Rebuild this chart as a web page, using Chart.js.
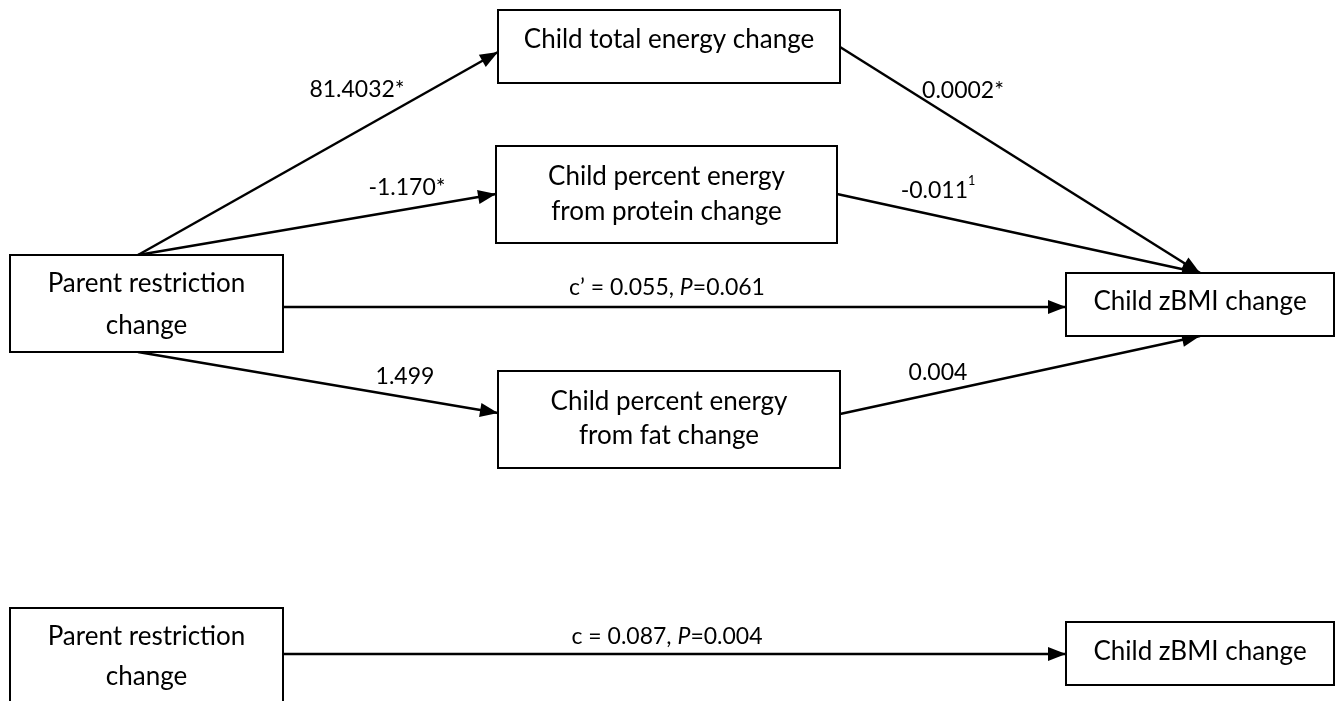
<!DOCTYPE html>
<html>
<head>
<meta charset="utf-8">
<script src="https://cdn.jsdelivr.net/npm/chart.js@4/dist/chart.umd.min.js"></script>
<style>
    body { margin: 0; background: #fff; }
    #wrap { width: 1342px; height: 701px; }
</style>
</head>
<body>
<div id="wrap"><canvas id="pathChart"></canvas></div>
<script>
// node texts (lines separated by \n)
const nodeNames = [
    'Parent restriction\nchange',
    'Child total energy change',
    'Child percent energy\nfrom protein change',
    'Child percent energy\nfrom fat change',
    'Child zBMI change',
    'Parent restriction\nchange',
    'Child zBMI change'
];

// paths: from node, to node, coefficient text (_x_ = italic, ^x = superscript)
const pathFrom = [0, 0, 0, 0, 1, 2, 3, 5];
const pathTo = [1, 2, 4, 3, 4, 4, 4, 6];
const pathLabels = [
    '81.4032*',
    '-1.170*',
    'c\u2019 = 0.055, _P_=0.061',
    '1.499',
    '0.0002*',
    '-0.011^1',
    '0.004',
    'c = 0.087, _P_=0.004'
];

// layout (scale units = pixels of the 1342x701 picture)
const boxes = [
    { x0: 10, y0: 255, x1: 283, y1: 352, textY: [284, 326] },
    { x0: 498, y0: 10, x1: 840, y1: 83, textY: [40] },
    { x0: 496, y0: 146, x1: 837, y1: 243, textY: [177, 212] },
    { x0: 498, y0: 371, x1: 840, y1: 468, textY: [402, 436] },
    { x0: 1066, y0: 273, x1: 1334, y1: 336, textY: [302] },
    { x0: 10, y0: 608, x1: 283, y1: 720, textY: [637, 677] },
    { x0: 1066, y0: 622, x1: 1334, y1: 685, textY: [652] }
];
const pathEnds = [
    [{ x: 138, y: 255 }, { x: 498, y: 52 }],
    [{ x: 138, y: 255 }, { x: 496, y: 194 }],
    [{ x: 283, y: 307 }, { x: 1066, y: 307 }],
    [{ x: 138, y: 352 }, { x: 498, y: 413 }],
    [{ x: 840, y: 47 }, { x: 1200, y: 273 }],
    [{ x: 837, y: 194 }, { x: 1200, y: 273 }],
    [{ x: 840, y: 414 }, { x: 1200, y: 336 }],
    [{ x: 283, y: 654 }, { x: 1066, y: 654 }]
];
const labelPos = [
    { x: 357, y: 90 }, { x: 407, y: 188 }, { x: 667, y: 288 }, { x: 405, y: 377 },
    { x: 963, y: 91 }, { x: 938, y: 191 }, { x: 938, y: 373 }, { x: 667, y: 637 }
];

const FONT = 'Lato, "Open Sans", sans-serif';

const datasets = pathLabels.map((lbl, i) => ({
    label: lbl,
    type: 'line',
    data: pathEnds[i],
    borderColor: '#000',
    borderWidth: 2.5,
    pointRadius: 0,
    showLine: true,
    fill: false
}));

function drawRich(ctx, text, cx, cy, size) {
    // split into parts: normal, italic, superscript
    const parts = [];
    const re = /_([^_]+)_|\^(\S+)|([^_^]+)/g;
    let m;
    while ((m = re.exec(text)) !== null) {
        if (m[1]) parts.push({ t: m[1], style: 'italic', size: size, dy: 0 });
        else if (m[2]) parts.push({ t: m[2], style: 'normal', size: size * 0.55, dy: -size * 0.42 });
        else parts.push({ t: m[3], style: 'normal', size: size, dy: 0 });
    }
    let total = 0;
    parts.forEach(p => {
        ctx.font = p.style + ' ' + p.size + 'px ' + FONT;
        p.w = ctx.measureText(p.t).width;
        total += p.w;
    });
    let x = cx - total / 2;
    ctx.textAlign = 'left';
    ctx.textBaseline = 'middle';
    parts.forEach(p => {
        ctx.font = p.style + ' ' + p.size + 'px ' + FONT;
        ctx.fillText(p.t, x, cy + p.dy);
        x += p.w;
    });
}

const diagramPlugin = {
    id: 'diagram',
    afterDatasetsDraw(chart) {
        const ctx = chart.ctx;
        const xs = chart.scales.x;
        const ys = chart.scales.y;
        ctx.save();
        ctx.fillStyle = '#000';
        // arrow heads at the end of each path
        chart.data.datasets.forEach((ds, i) => {
            const pts = chart.getDatasetMeta(i).data;
            const a = pts[0], b = pts[1];
            const ang = Math.atan2(b.y - a.y, b.x - a.x);
            const len = 18, half = 7;
            ctx.beginPath();
            ctx.moveTo(b.x, b.y);
            ctx.lineTo(b.x - len * Math.cos(ang) + half * Math.sin(ang), b.y - len * Math.sin(ang) - half * Math.cos(ang));
            ctx.lineTo(b.x - len * Math.cos(ang) - half * Math.sin(ang), b.y - len * Math.sin(ang) + half * Math.cos(ang));
            ctx.closePath();
            ctx.fill();
        });
        // boxes
        ctx.lineWidth = 2;
        ctx.strokeStyle = '#000';
        nodeNames.forEach((name, i) => {
            const bx = boxes[i];
            const x0 = xs.getPixelForValue(bx.x0), x1 = xs.getPixelForValue(bx.x1);
            const y0 = ys.getPixelForValue(bx.y0), y1 = ys.getPixelForValue(bx.y1);
            ctx.fillStyle = '#fff';
            ctx.fillRect(x0, y0, x1 - x0, y1 - y0);
            ctx.strokeRect(x0, y0, x1 - x0, y1 - y0);
            ctx.fillStyle = '#000';
            ctx.font = '26px ' + FONT;
            ctx.textAlign = 'center';
            ctx.textBaseline = 'middle';
            name.split('\n').forEach((line, j) => {
                ctx.fillText(line, (x0 + x1) / 2, ys.getPixelForValue(bx.textY[j]));
            });
        });
        // coefficients
        ctx.fillStyle = '#000';
        pathLabels.forEach((lbl, i) => {
            drawRich(ctx, lbl, xs.getPixelForValue(labelPos[i].x), ys.getPixelForValue(labelPos[i].y), 23);
        });
        ctx.restore();
    }
};

new Chart(document.getElementById('pathChart'), {
    type: 'scatter',
    data: { datasets: datasets },
    options: {
        responsive: true,
        maintainAspectRatio: false,
        animation: false,
        layout: { padding: 0 },
        plugins: { legend: { display: false }, tooltip: { enabled: false } },
        scales: {
            x: { type: 'linear', min: 0, max: 1342, display: false },
            y: { type: 'linear', min: 0, max: 701, reverse: true, display: false }
        }
    },
    plugins: [diagramPlugin]
});
</script>
</body>
</html>
